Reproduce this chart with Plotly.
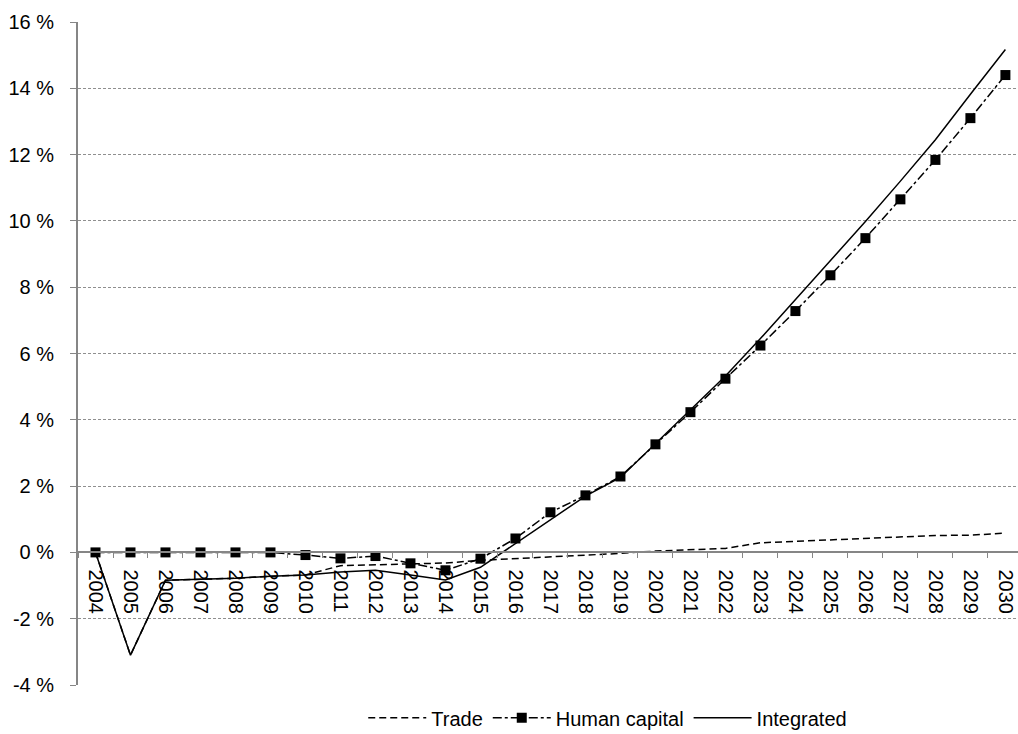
"""
Trade / human capital / integrated scenario, % deviation from baseline
"""

import plotly.graph_objects as go

years = [str(y) for y in range(2004, 2031)]

trade = [0.0, -3.1, -0.84, -0.81, -0.78, -0.72, -0.68, -0.40, -0.37, -0.34, -0.32, -0.24,
         -0.19, -0.14, -0.08, -0.03, 0.04, 0.07, 0.12, 0.29, 0.33, 0.39, 0.43, 0.46,
         0.51, 0.52, 0.58]

human_capital = [0.0, 0.0, 0.0, 0.0, 0.0, 0.0, -0.08, -0.18, -0.11, -0.33, -0.54, -0.19,
                 0.42, 1.21, 1.72, 2.29, 3.26, 4.23, 5.24, 6.24, 7.28, 8.36, 9.48,
                 10.65, 11.84, 13.1, 14.4]

integrated = [0.0, -3.1, -0.84, -0.81, -0.78, -0.72, -0.68, -0.59, -0.54, -0.68, -0.83, -0.45,
              0.27, 0.97, 1.70, 2.26, 3.27, 4.28, 5.32, 6.45, 7.62, 8.82, 9.98,
              11.2, 12.45, 13.82, 15.17]

ytick_vals = [-4, -2, 0, 2, 4, 6, 8, 10, 12, 14, 16]
ytick_text = ['-4 %', '-2 %', '0 %', '2 %', '4 %', '6 %', '8 %', '10 %', '12 %', '14 %', '16 %']

FONT = 'Liberation Sans, Arial, sans-serif'
AXIS_GREY = '#868686'

fig = go.Figure()

fig.add_trace(go.Scatter(
    x=years, y=trade, name='Trade', mode='lines',
    line=dict(color='black', width=1.5, dash='7px,4px')
))
fig.add_trace(go.Scatter(
    x=years, y=human_capital, name='Human capital', mode='lines+markers',
    line=dict(color='black', width=1.5, dash='dashdot'),
    marker=dict(symbol='square', size=10, color='black')
))
fig.add_trace(go.Scatter(
    x=years, y=integrated, name='Integrated', mode='lines',
    line=dict(color='black', width=1.5)
))

fig.update_layout(
    width=1018, height=734,
    margin=dict(l=78, r=0, t=22, b=49, autoexpand=False),
    paper_bgcolor='white', plot_bgcolor='white',
    font=dict(family=FONT, size=20, color='black'),
    showlegend=True,
    legend=dict(orientation='h', x=0.597, xanchor='center', xref='container',
                y=0.022, yanchor='middle', yref='container',
                itemwidth=58, font=dict(size=20), bgcolor='rgba(0,0,0,0)'),
)

# x axis crosses at y = 0 (0.2 of the way up the -4..16 range)
fig.update_xaxes(
    type='category', range=[-0.5, 26.36], automargin=False,
    anchor='free', position=0.2,
    showline=True, linecolor=AXIS_GREY, linewidth=2,
    ticks='outside', tickson='boundaries', ticklen=5, tickcolor=AXIS_GREY, tickwidth=1,
    tickangle=90, showgrid=False, zeroline=False, ticklabelstandoff=12,
    tickfont=dict(size=20)
)

fig.update_yaxes(
    range=[-4, 16], tickvals=ytick_vals, ticktext=ytick_text, automargin=False,
    showline=True, linecolor=AXIS_GREY, linewidth=2,
    ticks='outside', ticklen=6, tickcolor=AXIS_GREY,
    showgrid=True, gridcolor='#8f8f8f', griddash='3px,2px', gridwidth=1,
    zeroline=False, ticklabelstandoff=12,
    tickfont=dict(size=20)
)

# page body has a default 8px margin, drop it so the figure fills the window
fig.write_html("out.html", config={'displayModeBar': False},
               post_script="document.body.style.margin='0';")
